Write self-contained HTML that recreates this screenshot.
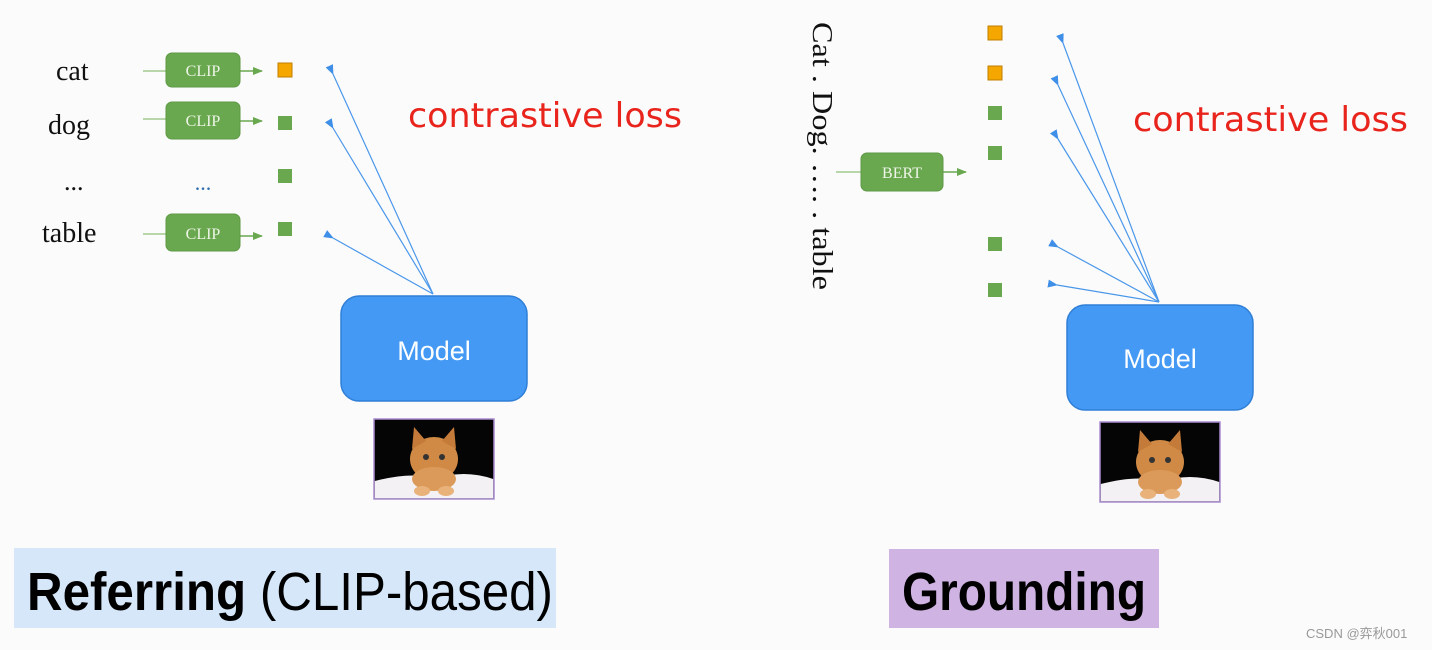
<!DOCTYPE html>
<html><head><meta charset="utf-8"><style>
html,body{margin:0;padding:0;background:#fbfbfb;}
svg{display:block;}
</style></head><body>
<svg width="1432" height="650" viewBox="0 0 1432 650" xmlns="http://www.w3.org/2000/svg">
<defs>
<marker id="bh" markerWidth="10" markerHeight="10" refX="1" refY="4" orient="auto" markerUnits="userSpaceOnUse"><path d="M10,0 L0,4 L10,8 Z" fill="#3f8fe8"/></marker>
<marker id="gh" markerWidth="10" markerHeight="10" refX="9" refY="4" orient="auto" markerUnits="userSpaceOnUse"><path d="M0,0 L10,4 L0,8 Z" fill="#6aa84f"/></marker>
<g id="cat">
<rect x="0" y="0" width="120" height="80" fill="#050505" stroke="#a98bd0" stroke-width="1.5"/>
<path d="M0.8,62 Q40,52 60,60 Q90,50 119.2,60 L119.2,79.2 L0.8,79.2 Z" fill="#f3f1f4"/>
<ellipse cx="60" cy="40" rx="24" ry="22" fill="#d08a45"/>
<path d="M38,30 L40,8 L52,22 Z M82,30 L80,8 L68,22 Z" fill="#c47a38"/>
<ellipse cx="60" cy="60" rx="22" ry="12" fill="#dc9a5a"/>
<ellipse cx="48" cy="72" rx="8" ry="5" fill="#e8b27a"/>
<ellipse cx="72" cy="72" rx="8" ry="5" fill="#e8b27a"/>
<circle cx="52" cy="38" r="3" fill="#333"/><circle cx="68" cy="38" r="3" fill="#333"/>
</g>
</defs>

<!-- LEFT -->
<g font-family="Liberation Serif, serif" fill="#111">
<text x="56" y="80" font-size="28">cat</text>
<text x="48" y="134" font-size="28">dog</text>
<text x="64" y="190" font-size="26">...</text>
<text x="42" y="242" font-size="28">table</text>
</g>
<g stroke="#8fbf78" stroke-width="1.2">
<line x1="143" y1="71" x2="166" y2="71"/>
<line x1="143" y1="119" x2="166" y2="119"/>
<line x1="143" y1="234" x2="166" y2="234"/>
</g>
<g stroke="#6aa84f" stroke-width="1.5">
<line x1="240" y1="71" x2="262" y2="71" marker-end="url(#gh)"/>
<line x1="240" y1="121" x2="262" y2="121" marker-end="url(#gh)"/>
<line x1="240" y1="236" x2="262" y2="236" marker-end="url(#gh)"/>
</g>
<g fill="#6aa84f" stroke="#5d9a45" stroke-width="1">
<rect x="166" y="53" width="74" height="34" rx="6"/>
<rect x="166" y="102" width="74" height="37" rx="6"/>
<rect x="166" y="214" width="74" height="37" rx="6"/>
</g>
<g font-family="Liberation Serif, serif" font-size="16" fill="#eef5e8" text-anchor="middle">
<text x="203" y="76">CLIP</text><text x="203" y="126">CLIP</text><text x="203" y="239">CLIP</text>
</g>
<text x="203" y="190" font-family="Liberation Serif, serif" font-size="22" fill="#2f6fb0" text-anchor="middle">...</text>
<rect x="278" y="63" width="14" height="14" fill="#f5a700" stroke="#c07f00"/>
<rect x="278" y="116" width="14" height="14" fill="#6aa84f"/>
<rect x="278" y="169" width="14" height="14" fill="#6aa84f"/>
<rect x="278" y="222" width="14" height="14" fill="#6aa84f"/>
<g stroke="#4a97ea" stroke-width="1.2" fill="none">
<line x1="433" y1="294" x2="333" y2="74" marker-end="url(#bh)"/>
<line x1="433" y1="294" x2="333" y2="128" marker-end="url(#bh)"/>
<line x1="433" y1="294" x2="333" y2="238" marker-end="url(#bh)"/>
</g>
<text x="408" y="127" font-family="DejaVu Sans, sans-serif" font-size="34" fill="#e8241c" textLength="274" lengthAdjust="spacingAndGlyphs">contrastive loss</text>
<rect x="341" y="296" width="186" height="105" rx="18" fill="#4499f5" stroke="#2f7fd6" stroke-width="1.5"/>
<text x="434" y="360" font-family="Liberation Sans, sans-serif" font-size="27" fill="#fff" text-anchor="middle">Model</text>
<use href="#cat" x="374" y="419"/>

<!-- RIGHT -->
<text transform="translate(813,22) rotate(90)" font-family="Liberation Serif, serif" font-size="28" fill="#111" textLength="268" lengthAdjust="spacingAndGlyphs">Cat . Dog. …. . table</text>
<line x1="836" y1="172" x2="861" y2="172" stroke="#8fbf78" stroke-width="1.2"/>
<line x1="943" y1="172" x2="966" y2="172" stroke="#6aa84f" stroke-width="1.5" marker-end="url(#gh)"/>
<rect x="861" y="153" width="82" height="38" rx="6" fill="#6aa84f" stroke="#5d9a45"/>
<text x="902" y="178" font-family="Liberation Serif, serif" font-size="16" fill="#eef5e8" text-anchor="middle">BERT</text>
<rect x="988" y="26" width="14" height="14" fill="#f5a700" stroke="#c07f00"/>
<rect x="988" y="66" width="14" height="14" fill="#f5a700" stroke="#c07f00"/>
<rect x="988" y="106" width="14" height="14" fill="#6aa84f"/>
<rect x="988" y="146" width="14" height="14" fill="#6aa84f"/>
<rect x="988" y="237" width="14" height="14" fill="#6aa84f"/>
<rect x="988" y="283" width="14" height="14" fill="#6aa84f"/>
<g stroke="#4a97ea" stroke-width="1.2" fill="none">
<line x1="1159" y1="302" x2="1063" y2="43" marker-end="url(#bh)"/>
<line x1="1159" y1="302" x2="1058" y2="85" marker-end="url(#bh)"/>
<line x1="1159" y1="302" x2="1058" y2="139" marker-end="url(#bh)"/>
<line x1="1159" y1="302" x2="1058" y2="247" marker-end="url(#bh)"/>
<line x1="1159" y1="302" x2="1057" y2="285" marker-end="url(#bh)"/>
</g>
<text x="1133" y="131" font-family="DejaVu Sans, sans-serif" font-size="34" fill="#e8241c" textLength="275" lengthAdjust="spacingAndGlyphs">contrastive loss</text>
<rect x="1067" y="305" width="186" height="105" rx="18" fill="#4499f5" stroke="#2f7fd6" stroke-width="1.5"/>
<text x="1160" y="368" font-family="Liberation Sans, sans-serif" font-size="27" fill="#fff" text-anchor="middle">Model</text>
<use href="#cat" x="1100" y="422"/>

<!-- bottom labels -->
<rect x="14" y="548" width="542" height="80" fill="#d6e7f9"/>
<text x="27" y="610" font-family="Liberation Sans, sans-serif" font-size="54" fill="#000" textLength="526" lengthAdjust="spacingAndGlyphs"><tspan font-weight="bold">Referring</tspan> (CLIP-based)</text>
<rect x="889" y="549" width="270" height="79" fill="#cfb3e3"/>
<text x="902" y="610" font-family="Liberation Sans, sans-serif" font-size="54" font-weight="bold" fill="#000" textLength="244" lengthAdjust="spacingAndGlyphs">Grounding</text>
<text x="1306" y="638" font-family="Liberation Sans, 'Noto Sans CJK SC', sans-serif" font-size="13" fill="#999">CSDN @弈秋001</text>
</svg>
</body></html>
